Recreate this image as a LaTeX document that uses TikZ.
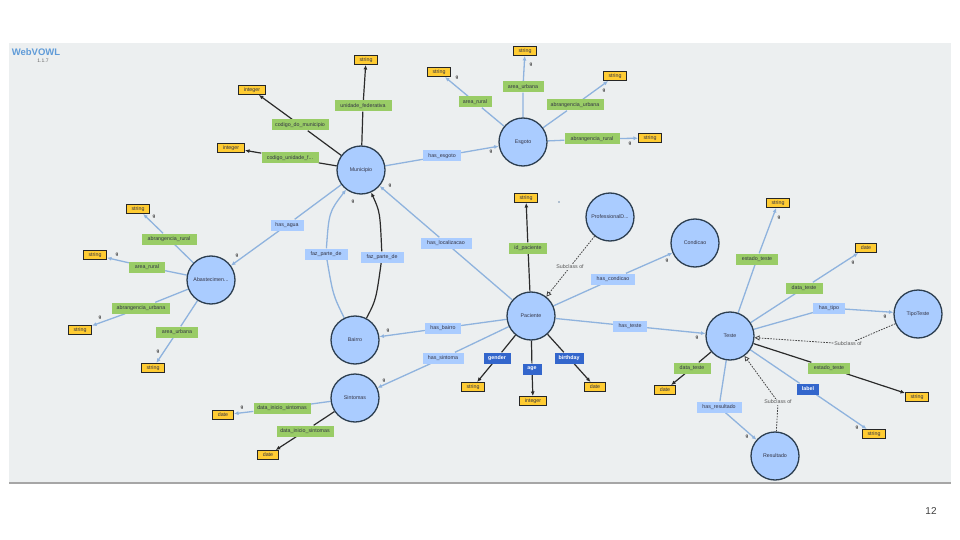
\documentclass[tikz,border=0pt]{standalone}
\usepackage{fontspec}
\setmainfont{Liberation Sans}
\usetikzlibrary{arrows.meta}
\pgfdeclarelayer{bg}
\pgfdeclarelayer{edges}
\pgfsetlayers{bg,edges,main}

\definecolor{panel}{HTML}{ECEFF0}
\definecolor{clsfill}{HTML}{AACCFF}
\definecolor{clsline}{HTML}{2C3E50}
\definecolor{dtfill}{HTML}{FFCC33}
\definecolor{dpfill}{HTML}{99CC66}
\definecolor{opfill}{HTML}{AACCFF}
\definecolor{apfill}{HTML}{3366CC}
\definecolor{bedge}{HTML}{8FB3DE}
\definecolor{kedge}{HTML}{2B2B2B}
\definecolor{txt}{HTML}{333344}
\definecolor{subtxt}{HTML}{555555}
\definecolor{subline}{HTML}{444444}
\definecolor{cardtxt}{HTML}{444444}
\definecolor{vowlblue}{HTML}{5F9BD8}

\newcommand\vsz{\fontsize{5.3}{6}\selectfont}

\tikzset{
  cls/.style={circle, draw=clsline, line width=1.3pt, fill=clsfill,
    minimum size=48pt, inner sep=0pt, font=\vsz, text=txt},
  dtype/.style={draw=black!85, line width=1pt, fill=dtfill,
    minimum width=23pt, minimum height=9pt, inner sep=0pt, font=\vsz, text=txt},
  dprop/.style={fill=dpfill, minimum height=11pt, inner sep=0pt, font=\vsz, text=txt},
  oprop/.style={fill=opfill, minimum height=11pt, inner sep=0pt, font=\vsz, text=txt},
  aprop/.style={fill=apfill, minimum height=11pt, inner sep=0pt, font=\vsz\bfseries, text=white},
  wd/.style={minimum width=#1pt},
  sublbl/.style={fill=panel, inner sep=0.8pt, font=\vsz, text=subtxt},
  card/.style={font=\fontsize{4.5}{5}\selectfont\bfseries, text=cardtxt, inner sep=0pt},
  bl/.style={draw=bedge, line width=1.3pt, -{Latex[length=4.5pt,width=4pt]}},
  kl/.style={draw=kedge, line width=1.2pt, -{Latex[length=4.5pt,width=4pt]}},
  sl/.style={draw=subline, line width=0.8pt, dash pattern=on 1.6pt off 1.2pt,
    -{Triangle[open,length=5pt,width=5pt,fill=white]}},
}

\begin{document}
\begin{tikzpicture}[x=1pt, y=-1pt]
\useasboundingbox (0,0) rectangle (960,540);

% slide page and the WebVOWL canvas
\begin{pgfonlayer}{bg}
  \fill[white] (0,0) rectangle (960,540);
  \fill[panel] (9,43) rectangle (951,483);
  \draw[gray!70, line width=1.5pt] (9,483) -- (951,483);
\end{pgfonlayer}

\node[font=\fontsize{9.5}{10}\selectfont\bfseries, text=vowlblue] (brand) at (36,52) {WebVOWL};
\node[font=\fontsize{5}{5}\selectfont, text=gray!80!black] (ver) at (43,61) {1.1.7};
\node[font=\fontsize{10}{11}\selectfont, text=black!75] (page) at (931,511) {12};

% classes
\node[cls] (mun) at (361,170) {Municipio};
\node[cls] (esg) at (523,142) {Esgoto};
\node[cls] (aba) at (211,280) {Abastecimen...};
\node[cls] (bai) at (355,340) {Bairro};
\node[cls] (sin) at (355,398) {Sintomas};
\node[cls] (pac) at (531,316) {Paciente};
\node[cls] (pro) at (610,217) {ProfessionalD...};
\node[cls] (con) at (695,243) {Condicao};
\node[cls] (tes) at (730,336) {Teste};
\node[cls] (tip) at (918,314) {TipoTeste};
\node[cls] (res) at (775,456) {Resultado};

% datatypes
\node[dtype] (d1) at (366,60) {string};
\node[dtype, wd=27] (d2) at (252,90) {integer};
\node[dtype, wd=27] (d3) at (231,148) {integer};
\node[dtype] (d4) at (439,72) {string};
\node[dtype] (d5) at (525,51) {string};
\node[dtype] (d6) at (615,76) {string};
\node[dtype] (d7) at (650,138) {string};
\node[dtype] (d8) at (138,209) {string};
\node[dtype] (d9) at (95,255) {string};
\node[dtype] (d10) at (80,330) {string};
\node[dtype] (d11) at (153,368) {string};
\node[dtype] (d12) at (526,198) {string};
\node[dtype] (d13) at (473,387) {string};
\node[dtype, wd=27] (d14) at (533,401) {integer};
\node[dtype, wd=21] (d15) at (595,387) {date};
\node[dtype, wd=21] (d16) at (223,415) {date};
\node[dtype, wd=21] (d17) at (268,455) {date};
\node[dtype] (d18) at (778,203) {string};
\node[dtype, wd=21] (d19) at (866,248) {date};
\node[dtype] (d20) at (917,397) {string};
\node[dtype] (d21) at (874,434) {string};
\node[dtype, wd=21] (d22) at (665,390) {date};

% property labels
\node[dprop, wd=57] (l1) at (363,106) {unidade\_federativa};
\node[dprop, wd=57] (l2) at (300,125) {codigo\_do\_municipio};
\node[dprop, wd=57] (l3) at (290,158) {codigo\_unidade\_f...};
\node[oprop, wd=38] (l4) at (442,156) {has\_esgoto};
\node[dprop, wd=33] (l5) at (475,102) {area\_rural};
\node[dprop, wd=41] (l6) at (523,87) {area\_urbana};
\node[dprop, wd=57] (l7) at (575,105) {abrangencia\_urbana};
\node[dprop, wd=55] (l8) at (592,139) {abrangencia\_rural};
\node[oprop, wd=33] (l9) at (287,225) {has\_agua};
\node[dprop, wd=55] (l10) at (169,239) {abrangencia\_rural};
\node[dprop, wd=36] (l11) at (147,267) {area\_rural};
\node[dprop, wd=58] (l12) at (141,308) {abrangencia\_urbana};
\node[dprop, wd=42] (l13) at (177,332) {area\_urbana};
\node[oprop, wd=43] (l14) at (326,254) {faz\_parte\_de};
\node[oprop, wd=43] (l15) at (382,257) {faz\_parte\_de};
\node[oprop, wd=51] (l16) at (446,243) {has\_localizacao};
\node[oprop, wd=36] (l17) at (443,328) {has\_bairro};
\node[oprop, wd=41] (l18) at (443,358) {has\_sintoma};
\node[dprop, wd=38] (l19) at (528,248) {id\_paciente};
\node[aprop, wd=27] (l20) at (497,358) {gender};
\node[aprop, wd=19] (l21) at (532,369) {age};
\node[aprop, wd=29] (l22) at (569,358) {birthday};
\node[oprop, wd=44] (l23) at (613,279) {has\_condicao};
\node[oprop, wd=34] (l24) at (630,326) {has\_teste};
\node[dprop, wd=57] (l25) at (282,408) {data\_inicio\_sintomas};
\node[dprop, wd=57] (l26) at (305,431) {data\_inicio\_sintomas};
\node[dprop, wd=42] (l27) at (757,259) {estado\_teste};
\node[dprop, wd=37] (l28) at (804,288) {data\_teste};
\node[oprop, wd=32] (l29) at (829,308) {has\_tipo};
\node[dprop, wd=42] (l30) at (829,368) {estado\_teste};
\node[aprop, wd=22] (l31) at (808,389) {label};
\node[dprop, wd=37] (l32) at (692,368) {data\_teste};
\node[oprop, wd=45] (l33) at (719,407) {has\_resultado};

\node[sublbl] (s1) at (570,267) {Subclass of};
\node[sublbl] (s2) at (848,344) {Subclass of};
\node[sublbl] (s3) at (778,402) {Subclass of};

% small marks beside the arrow ends
\foreach \p/\q in {491/152, 457/78, 531/65, 604/91, 630/144, 390/186, 353/202,
  237/256, 154/217, 117/255, 100/318, 158/352, 388/331, 384/381, 242/408,
  667/261, 697/338, 779/218, 853/263, 885/317, 857/428, 747/437}
  \node[card] at (\p,\q) {g};
\fill[bedge!80!black] (559,202) circle (0.8);

\begin{pgfonlayer}{edges}
  % Municipio
  \draw[kl] (mun) -- (l1) -- (d1);
  \draw[kl] (mun) -- (l2) -- (d2);
  \draw[kl] (mun) -- (l3) -- (d3);
  \draw[bl] (mun) -- (l4) -- (esg);
  \draw[bl] (mun) -- (l9) -- (aba);
  % Esgoto
  \draw[bl] (esg) -- (l5) -- (d4);
  \draw[bl] (esg) -- (l6) -- (d5);
  \draw[bl] (esg) -- (l7) -- (d6);
  \draw[bl] (esg) -- (l8) -- (d7);
  % Abastecimento
  \draw[bl] (aba) -- (l10) -- (d8);
  \draw[bl] (aba) -- (l11) -- (d9);
  \draw[bl] (aba) -- (l12) -- (d10);
  \draw[bl] (aba) -- (l13) -- (d11);
  % Bairro
  \draw[bl] (bai) .. controls (333,295) .. (l14) .. controls (329,212) .. (mun);
  \draw[kl] (bai) .. controls (376,300) .. (l15) .. controls (380,212) .. (mun);
  % Paciente
  \draw[bl] (pac) -- (l16) -- (mun);
  \draw[bl] (pac) -- (l17) -- (bai);
  \draw[bl] (pac) -- (l18) -- (sin);
  \draw[kl] (pac) -- (l19) -- (d12);
  \draw[kl] (pac) -- (l20) -- (d13);
  \draw[kl] (pac) -- (l21) -- (d14);
  \draw[kl] (pac) -- (l22) -- (d15);
  \draw[bl] (pac) -- (l23) -- (con);
  \draw[bl] (pac) -- (l24) -- (tes);
  \draw[sl] (pro) -- (s1) -- (pac);
  % Sintomas
  \draw[bl] (sin) -- (l25) -- (d16);
  \draw[kl] (sin) -- (l26) -- (d17);
  % Teste
  \draw[bl] (tes) -- (l27) -- (d18);
  \draw[bl] (tes) -- (l28) -- (d19);
  \draw[bl] (tes) -- (l29) -- (tip);
  \draw[kl] (tes) -- (l30) -- (d20);
  \draw[bl] (tes) -- (l31) -- (d21);
  \draw[kl] (tes) -- (l32) -- (d22);
  \draw[bl] (tes) -- (l33) -- (res);
  \draw[sl] (tip) -- (s2) -- (tes);
  \draw[sl] (res) -- (s3) -- (tes);
\end{pgfonlayer}
\end{tikzpicture}
\end{document}
